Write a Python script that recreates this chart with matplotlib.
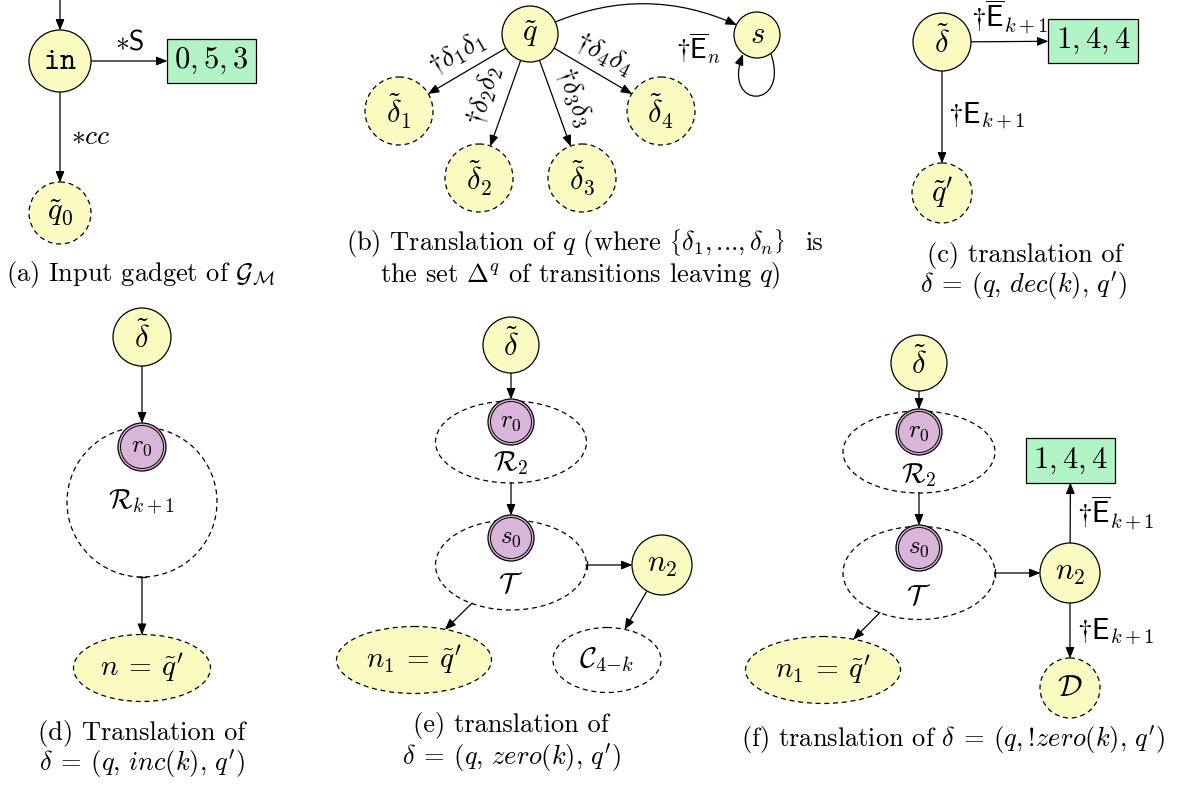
import numpy as np
import matplotlib
matplotlib.use('Agg')
import matplotlib.pyplot as plt
from matplotlib.patches import Circle, Ellipse, Rectangle, FancyArrowPatch
from matplotlib.path import Path

plt.rcParams['mathtext.fontset'] = 'cm'
plt.rcParams['font.family'] = 'cmr10'

YELLOW = '#fbfbc2'
GREEN = '#b3f4c6'
PURPLE = '#d9b5d9'

### nodes of the six gadgets (page pixel coordinates, y pointing down)
node_ids = ['start', 'in', 'box_a', 'q0',
            'q', 's', 'd1', 'd2', 'd3', 'd4',
            'dc', 'box_c', 'qc',
            'dd', 'r0d', 'Rd', 'nd',
            'de', 'r0e', 'Re', 's0e', 'Te', 'n2e', 'n1e', 'Ce',
            'df', 'r0f', 'Rf', 's0f', 'Tf', 'n2f', 'boxf', 'Df', 'n1f']
node_kinds = ['point', 'solid', 'box', 'dashed',
              'solid', 'solid', 'dashed', 'dashed', 'dashed', 'dashed',
              'solid', 'box', 'dashed',
              'solid', 'init', 'region', 'ell',
              'solid', 'init', 'region', 'init', 'region', 'solid', 'ell', 'ell_empty',
              'solid', 'init', 'region', 'init', 'region', 'solid', 'box', 'dashed', 'ell']
node_labels = ['', r'$\mathtt{in}$', r'$0, 5, 3$', r'$\tilde{q}_0$',
               r'$\tilde{q}$', r'$s$', r'$\tilde{\delta}_1$', r'$\tilde{\delta}_2$',
               r'$\tilde{\delta}_3$', r'$\tilde{\delta}_4$',
               r'$\tilde{\delta}$', r'$1, 4, 4$', r"$\tilde{q}'$",
               r'$\tilde{\delta}$', r'$r_0$', r'$\mathcal{R}_{k+1}$', r"$n\>=\>\tilde{q}'$",
               r'$\tilde{\delta}$', r'$r_0$', r'$\mathcal{R}_2$', r'$s_0$', r'$\mathcal{T}$',
               r'$n_2$', r"$n_1\>=\>\tilde{q}'$", r'$\mathcal{C}_{4{-}k}$',
               r'$\tilde{\delta}$', r'$r_0$', r'$\mathcal{R}_2$', r'$s_0$', r'$\mathcal{T}$',
               r'$n_2$', r'$1, 4, 4$', r'$\mathcal{D}$', r"$n_1\>=\>\tilde{q}'$"]
node_x = [60, 60, 211.5, 60,
          530, 757, 399, 479, 582, 661,
          942, 1093, 942,
          142, 142, 142, 142,
          511, 511, 511, 511, 511, 662, 414, 607,
          919, 919, 919, 919, 919, 1070, 1070.5, 1070, 823]
node_y = [0, 61, 61, 213,
          34, 35, 111, 178, 178, 111,
          42, 41, 193,
          337, 447, 502, 668,
          345, 422, 442, 538, 565, 565, 660, 660,
          363, 432, 452, 548, 573, 573, 460.5, 688, 670]
node_w = [0, 62, 89, 62,
          56, 46, 68, 68, 68, 68,
          58, 90, 60,
          58, 48, 150, 137,
          56, 46, 151, 46, 151, 60, 155, 108,
          56, 46, 152, 46, 152, 60, 89, 60, 155]
node_h = [0, 62, 44, 62,
          56, 46, 68, 68, 68, 68,
          58, 44, 60,
          58, 48, 150, 67,
          56, 46, 82, 46, 90, 60, 67, 65,
          56, 46, 82, 46, 93, 60, 45, 60, 67]
# vertical shift of the label of a region (the label sits below its initial state)
node_label_dy = [0, 0, 0, 0,
                 0, 0, 0, 0, 0, 0,
                 0, 0, 0,
                 0, 0, 0, 0,
                 0, 0, 21, 0, 20, 0, 0, 0,
                 0, 0, 23, 0, 24, 0, 0, 0, 0]
label_size = {'solid': 22, 'dashed': 22, 'box': 22, 'ell': 21, 'ell_empty': 21,
              'region': 20, 'init': 18, 'point': 10}

### edges
edge_src = ['start', 'in', 'in',
            'q', 'q', 'q', 'q', 'q',
            'dc', 'dc',
            'dd', 'Rd',
            'de', 'Re', 'Te', 'Te', 'n2e',
            'df', 'Rf', 'Tf', 'Tf', 'n2f', 'n2f']
edge_dst = ['in', 'box_a', 'q0',
            'd1', 'd2', 'd3', 'd4', 's',
            'box_c', 'qc',
            'r0d', 'nd',
            'r0e', 's0e', 'n2e', 'n1e', 'Ce',
            'r0f', 's0f', 'n2f', 'n1f', 'boxf', 'Df']
edge_kind = ['plain', 'plain', 'plain',
             'plain', 'plain', 'plain', 'plain', 'curve',
             'plain', 'plain',
             'plain', 'bar',
             'plain', 'plain', 'bar', 'plain', 'plain',
             'plain', 'plain', 'bar', 'plain', 'plain', 'plain']

### edge labels
elabel_text = [r'$\ast\mathsf{S}$', r'$\ast cc$',
               r'$\dagger\delta_1\delta_1$', r'$\dagger\delta_2\delta_2$',
               r'$\dagger\delta_3\delta_3$', r'$\dagger\delta_4\delta_4$',
               r'$\dagger\overline{\mathsf{E}}_n$',
               r'$\dagger\overline{\mathsf{E}}_{k+1}$', r'$\dagger\mathsf{E}_{k+1}$',
               r'$\dagger\overline{\mathsf{E}}_{k+1}$', r'$\dagger\mathsf{E}_{k+1}$']
elabel_x = [130, 91, 457, 484, 574, 604, 698, 1010, 987, 1116, 1116]
elabel_y = [42, 137, 54, 96, 97, 54, 48, 17, 116, 513, 632]
elabel_rot = [0, 0, 30, 73, -70, -27, 0, 0, 0, 0, 0]
elabel_size = [20, 20, 20, 20, 20, 20, 20, 21, 21, 21, 21]

### captions
cap_text = [r'(a) Input gadget of $\mathcal{G}_\mathcal{M}$',
            r'(b) Translation of $q$ (where $\left\{\delta_1,\right.$...,$\left.\,\delta_n\right\}$',
            'is',
            r'the set $\Delta^q$ of transitions leaving $q$)',
            '(c) translation of',
            r"$\delta\>=\>(q,\, dec(k),\, q')$",
            '(d) Translation of',
            r"$\delta\>=\>(q,\, inc(k),\, q')$",
            '(e) translation of',
            r"$\delta\>=\>(q,\, zero(k),\, q')$",
            r"(f) translation of $\delta\>=\>(q,\mathrm{!}\!zero(k),\, q')$"]
cap_x = [141, 346, 805, 380, 1025, 1023, 142, 142, 511, 511, 953]
cap_y = [281, 250, 250, 282, 262, 292, 740, 771, 732, 764, 747]
cap_ha = ['center', 'left', 'left', 'left', 'center', 'center',
          'center', 'center', 'center', 'center', 'center']

fig = plt.figure(figsize=(11.78, 7.85), dpi=100)
ax = fig.add_axes([0, 0, 1, 1])
ax.set_xlim(0, 1178)
ax.set_ylim(785, 0)
ax.axis('off')

dash = (0, (4, 3))
lw = 0.9
patches = {}
for nid, kind, lab, x, y, w, h, dy in zip(node_ids, node_kinds, node_labels, node_x,
                                          node_y, node_w, node_h, node_label_dy):
    if kind == 'point':
        patches[nid] = None
        continue
    if kind == 'solid':
        p = Circle((x, y), w / 2, fc=YELLOW, ec='k', lw=lw, zorder=3)
    elif kind == 'dashed':
        p = Circle((x, y), w / 2, fc=YELLOW, ec='k', lw=lw, ls=dash, zorder=3)
    elif kind == 'ell':
        p = Ellipse((x, y), w, h, fc=YELLOW, ec='k', lw=lw, ls=dash, zorder=3)
    elif kind == 'ell_empty':
        p = Ellipse((x, y), w, h, fc='none', ec='k', lw=lw, ls=dash, zorder=3)
    elif kind == 'region':
        p = Ellipse((x, y), w, h, fc='none', ec='k', lw=lw, ls=dash, zorder=1)
    elif kind == 'init':
        p = Circle((x, y), w / 2, fc=PURPLE, ec='k', lw=lw, zorder=3)
        ax.add_patch(Circle((x, y), w / 2 - 2.5, fc='none', ec='k', lw=0.7, zorder=4))
    elif kind == 'box':
        p = Rectangle((x - w / 2, y - h / 2), w, h, fc=GREEN, ec='k', lw=lw, zorder=3)
    ax.add_patch(p)
    patches[nid] = p
    ax.text(x, y + dy, lab, ha='center', va='center', fontsize=label_size[kind], zorder=5)

pos = {nid: (x, y) for nid, x, y in zip(node_ids, node_x, node_y)}
size = {nid: (w, h) for nid, w, h in zip(node_ids, node_w, node_h)}
astyle = '-|>,head_length=0.55,head_width=0.22'

for src, dst, kind in zip(edge_src, edge_dst, edge_kind):
    conn = 'arc3,rad=-0.27' if kind == 'curve' else 'arc3'
    arr = FancyArrowPatch(pos[src], pos[dst], patchA=patches[src], patchB=patches[dst],
                          shrinkA=0, shrinkB=0, arrowstyle=astyle, mutation_scale=12,
                          lw=lw, color='k', connectionstyle=conn, zorder=2)
    ax.add_patch(arr)
    if kind == 'bar':
        # bar at the tail, on the border of the region
        (x0, y0), (x1, y1) = pos[src], pos[dst]
        a, b = size[src][0] / 2, size[src][1] / 2
        d = np.array([x1 - x0, y1 - y0], dtype=float)
        t = 1 / np.sqrt((d[0] / a) ** 2 + (d[1] / b) ** 2)
        px, py = x0 + t * d[0], y0 + t * d[1]
        n = np.array([-d[1], d[0]]) / np.hypot(*d) * 4
        ax.plot([px - n[0], px + n[0]], [py - n[1], py + n[1]], color='k', lw=lw, zorder=2)

# self loop on s
sx, sy = pos['s']
loop = Path([(sx + 14, sy + 19), (sx + 33, sy + 75), (sx - 35, sy + 75), (sx - 14, sy + 19)],
            [Path.MOVETO, Path.CURVE4, Path.CURVE4, Path.CURVE4])
ax.add_patch(FancyArrowPatch(path=loop, arrowstyle=astyle, mutation_scale=12,
                             lw=lw, color='k', zorder=2))

for t, x, y, r, fs in zip(elabel_text, elabel_x, elabel_y, elabel_rot, elabel_size):
    ax.text(x, y, t, ha='center', va='center', rotation=r, rotation_mode='anchor',
            fontsize=fs, zorder=5)

for t, x, y, ha in zip(cap_text, cap_x, cap_y, cap_ha):
    ax.text(x, y, t, ha=ha, va='baseline', fontsize=19)

fig.savefig('out.png', dpi=100)
